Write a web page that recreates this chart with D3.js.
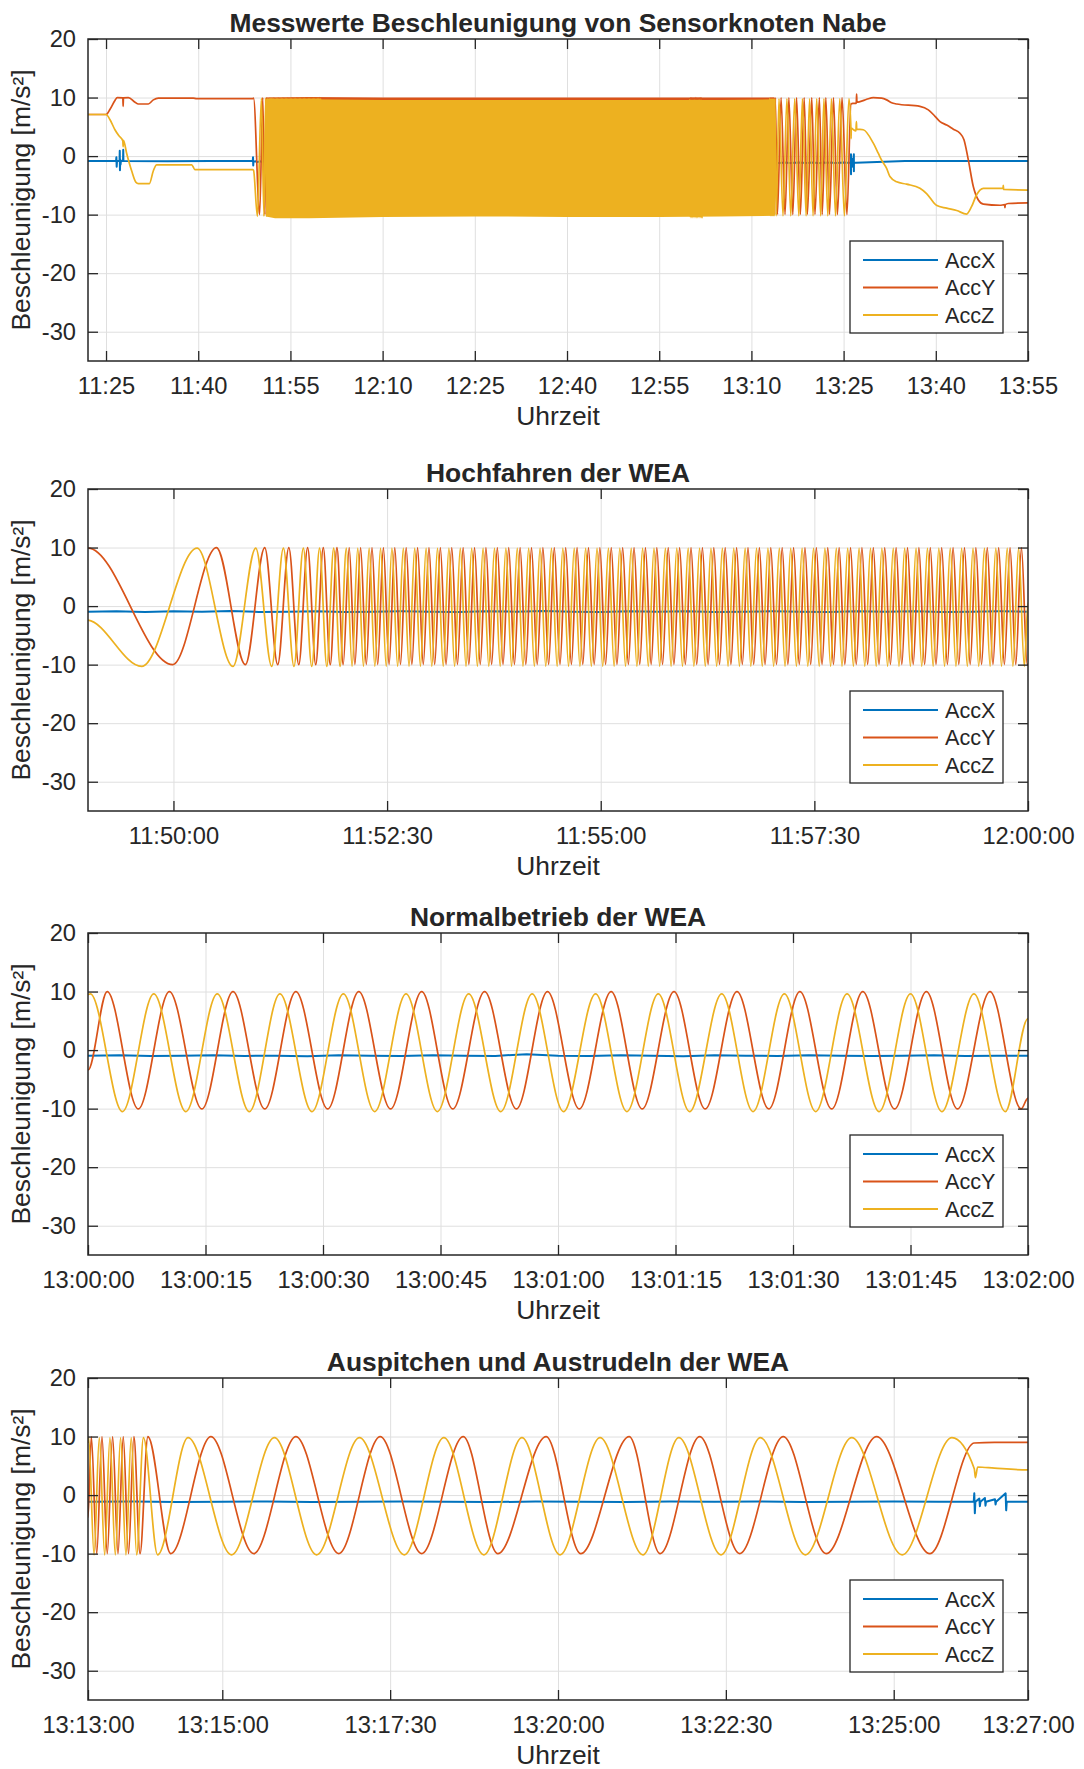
<!DOCTYPE html>
<html lang="de">
<head>
<meta charset="utf-8">
<title>Beschleunigung Sensorknoten Nabe</title>
<script src="https://cdn.jsdelivr.net/npm/d3@7/dist/d3.min.js"></script>
<style>
  html, body { margin: 0; padding: 0; background: #ffffff; }
  svg { display: block; }
  text { font-family: "Liberation Sans", Arial, Helvetica, sans-serif; fill: #262626; }
</style>
</head>
<body>
<svg id="chart" width="1084" height="1769"></svg>
<script>
// ------------------------------------------------------------------
// Data
// ------------------------------------------------------------------
const seriesNames = ["AccX", "AccY", "AccZ"];
const seriesColors = ["#0072BD", "#D95319", "#EDB120"];
const yTickValues = [-30, -20, -10, 0, 10, 20];

const panelTitles = [
  "Messwerte Beschleunigung von Sensorknoten Nabe",
  "Hochfahren der WEA",
  "Normalbetrieb der WEA",
  "Auspitchen und Austrudeln der WEA"
];
const panelRanges = [
  ["11:22:04", "13:55:00"],
  ["11:49:00", "12:00:00"],
  ["13:00:00", "13:02:00"],
  ["13:13:00", "13:27:00"]
];
const panelTickLabels = [
  ["11:25", "11:40", "11:55", "12:10", "12:25", "12:40", "12:55", "13:10", "13:25", "13:40", "13:55"],
  ["11:50:00", "11:52:30", "11:55:00", "11:57:30", "12:00:00"],
  ["13:00:00", "13:00:15", "13:00:30", "13:00:45", "13:01:00", "13:01:15", "13:01:30", "13:01:45", "13:02:00"],
  ["13:13:00", "13:15:00", "13:17:30", "13:20:00", "13:22:30", "13:25:00", "13:27:00"]
];

// Rotor at rest before start-up [clock, m/s²]
const accXBefore = [
  ["11:22:04", -0.85], ["11:26:38", -0.85], ["11:26:41", -0.2], ["11:26:44", -1.8], ["11:26:47", -0.85],
  ["11:27:12", -0.85], ["11:27:14", 0.9], ["11:27:16", -2.4], ["11:27:19", -0.6], ["11:27:22", -1.4],
  ["11:27:25", -0.85], ["11:27:46", -0.85], ["11:27:48", 1.1], ["11:27:50", -0.85], ["11:35:00", -0.9],
  ["11:42:00", -0.85], ["11:48:52", -0.85], ["11:48:55", -0.2], ["11:48:57", -1.6], ["11:48:59", -0.9]
];
const accYBefore = [
  ["11:22:04", 7.1], ["11:25:00", 7.1], ["11:25:39", 8.0], ["11:26:27", 9.5], ["11:26:50", 10.0],
  ["11:27:44", 9.95], ["11:27:47", 8.5], ["11:27:50", 9.95], ["11:28:38", 10.0], ["11:29:43", 9.2],
  ["11:30:15", 8.9], ["11:31:53", 8.9], ["11:32:42", 9.6], ["11:33:30", 9.9], ["11:39:12", 9.9],
  ["11:39:44", 9.8], ["11:48:52", 9.8]
];
const accZBefore = [
  ["11:22:04", 7.1], ["11:25:00", 7.1], ["11:25:39", 6.2], ["11:26:27", 4.5], ["11:27:04", 3.5],
  ["11:27:44", 2.6], ["11:27:47", 1.6], ["11:27:50", 2.7], ["11:28:21", 0.5], ["11:29:10", -2.5],
  ["11:29:53", -4.5], ["11:30:15", -4.7], ["11:32:03", -4.7], ["11:32:42", -2.5], ["11:33:14", -1.5],
  ["11:38:56", -1.5], ["11:39:28", -2.3], ["11:48:52", -2.3]
];

// Start-up, seconds after 11:49:00
const startupBase = "11:49:00";
const accXStartup = [ // every 20 s
  -0.95, -0.9, -1.0, -0.9, -0.95, -0.85, -1.0, -0.95, -0.9, -1.0, -0.95, -0.9, -0.95, -1.0, -0.9, -0.95, -0.85,
  -0.95, -1.0, -0.9, -0.95, -0.9, -1.0, -0.95, -0.9, -0.95, -1.0, -0.9, -0.95, -0.9, -1.0, -0.95, -0.9, -0.95
];
const accYStartupEdges = [[0, 9.9], [660, -9.9]];
const accZStartupEdges = [[0, -2.4], [660, 0.5]];
const accYStartupLevels = [10, -10];
const accZStartupLevels = [9.9, -10.3];
// turning points (trough first)
const accYStartupTurns = [
  59.5, 90.2, 110.5, 124.1, 133.2, 141.0, 148.0, 154.2, 159.9, 165.2, 170.1, 174.8, 179.2, 183.4, 187.4, 191.4,
  195.4, 199.4, 203.4, 207.4, 211.4, 215.4, 219.4, 223.4, 227.4, 231.4, 235.4, 239.4, 243.4, 247.4, 251.4,
  255.4, 259.4, 263.4, 267.4, 271.4, 275.4, 279.4, 283.4, 287.4, 291.4, 295.4, 299.4, 303.4, 307.4, 311.4,
  315.4, 319.4, 323.4, 327.4, 331.4, 335.4, 339.4, 343.4, 347.4, 351.4, 355.4, 359.4, 363.4, 367.4, 371.4,
  375.4, 379.4, 383.4, 387.4, 391.4, 395.4, 399.4, 403.4, 407.4, 411.4, 415.4, 419.4, 423.4, 427.4, 431.4,
  435.4, 439.4, 443.4, 447.4, 451.4, 455.4, 459.4, 463.4, 467.4, 471.4, 475.4, 479.4, 483.4, 487.4, 491.4,
  495.4, 499.4, 503.4, 507.4, 511.4, 515.4, 519.4, 523.4, 527.4, 531.4, 535.4, 539.4, 543.4, 547.4, 551.4,
  555.4, 559.4, 563.4, 567.4, 571.4, 575.4, 579.4, 583.4, 587.4, 591.4, 595.4, 599.4, 603.4, 607.4, 611.4,
  615.4, 619.4, 623.4, 627.4, 631.4, 635.4, 639.4, 643.4, 647.4, 651.4, 655.4, 659.4
];
const accZStartupTurns = [
  37.7, 76.6, 101.8, 117.8, 129.0, 137.2, 144.6, 151.2, 157.1, 162.6, 167.7, 172.5, 177.0, 181.4, 185.4, 189.4,
  193.4, 197.4, 201.4, 205.4, 209.4, 213.4, 217.4, 221.4, 225.4, 229.4, 233.4, 237.4, 241.4, 245.4, 249.4,
  253.4, 257.4, 261.4, 265.4, 269.4, 273.4, 277.4, 281.4, 285.4, 289.4, 293.4, 297.4, 301.4, 305.4, 309.4,
  313.4, 317.4, 321.4, 325.4, 329.4, 333.4, 337.4, 341.4, 345.4, 349.4, 353.4, 357.4, 361.4, 365.4, 369.4,
  373.4, 377.4, 381.4, 385.4, 389.4, 393.4, 397.4, 401.4, 405.4, 409.4, 413.4, 417.4, 421.4, 425.4, 429.4,
  433.4, 437.4, 441.4, 445.4, 449.4, 453.4, 457.4, 461.4, 465.4, 469.4, 473.4, 477.4, 481.4, 485.4, 489.4,
  493.4, 497.4, 501.4, 505.4, 509.4, 513.4, 517.4, 521.4, 525.4, 529.4, 533.4, 537.4, 541.4, 545.4, 549.4,
  553.4, 557.4, 561.4, 565.4, 569.4, 573.4, 577.4, 581.4, 585.4, 589.4, 593.4, 597.4, 601.4, 605.4, 609.4,
  613.4, 617.4, 621.4, 625.4, 629.4, 633.4, 637.4, 641.4, 645.4, 649.4, 653.4, 657.4
];

// Normal operation, seconds after 13:00:00
const normalBase = "13:00:00";
const accXNormal = [ // every 4 s
  -0.95, -0.9, -1.0, -0.95, -0.9, -1.0, -0.95, -1.05, -0.9, -0.95, -1.0, -0.9, -0.95, -1.0, -0.7, -0.95,
  -1.0, -0.9, -0.95, -1.05, -0.9, -0.95, -1.0, -0.9, -0.95, -1.0, -0.95, -0.9, -1.0, -0.95, -0.95
];
const accYNormalEdges = [[0, -3.4], [120, -8.2]];
const accZNormalEdges = [[0, 9.5], [120, 5.4]];
const accYNormalLevels = [10, -10.05];
const accZNormalLevels = [9.6, -10.5];
// turning points (peak first)
const accYNormalTurns = [
  2.45, 6.42, 10.39, 14.54, 18.51, 22.57, 26.54, 30.60, 34.57, 38.63, 42.60, 46.57, 50.63, 54.69, 58.66,
  62.72, 66.78, 70.75, 74.81, 78.79, 82.85, 86.91, 90.88, 94.94, 98.91, 102.97, 107.03, 111.0, 115.15, 119.12
];
const accZNormalTurns = [
  0.3, 4.4, 8.4, 12.5, 16.5, 20.6, 24.5, 28.6, 32.6, 36.6, 40.6, 44.6, 48.6, 52.7, 56.7,
  60.7, 64.8, 68.8, 72.8, 76.8, 80.9, 84.9, 88.9, 92.9, 96.9, 101.0, 105.0, 109.0, 113.1, 117.1
];

// Pitching out and coasting, seconds after 13:13:00
const stopBase = "13:13:00";
const accXStop = [
  [0, -1.15], [40, -1.1], [80, -1.2], [120, -1.15], [160, -1.1], [200, -1.2], [240, -1.15], [280, -1.1],
  [320, -1.15], [360, -1.2], [400, -1.1], [440, -1.15], [480, -1.2], [520, -1.1], [560, -1.15], [600, -1.1],
  [640, -1.2], [680, -1.15], [720, -1.1], [760, -1.15], [791.5, -1.15], [792, 0.3], [792.5, -3.1], [793, -1.15],
  [796.5, -0.6], [797, -1.9], [797.5, -1.15], [801.5, -0.5], [802, -1.8], [802.5, -1.15], [810.5, -0.7],
  [811, -1.6], [811.5, -1.15], [820, 0.3], [820.5, -2.6], [821, -1.15], [840, -1.15]
];
const accYStopEdges = [[0, -3.8], [792, 8.9]];
const accZStopEdges = [[0, 9.0], [792, 4.5]];
const accYStopLevels = [10, -10];
const accZStopLevels = [9.8, -10.2];
// turning points (peak first)
const accYStopTurns = [
  3.0, 7.8, 12.5, 17.2, 22.0, 26.8, 31.5, 36.2, 41.0, 46.5, 53.5, 74.0, 109.8, 148.1, 185.8, 224.1, 261.1,
  298.2, 335.3, 366.2, 409.4, 440.3, 483.6, 511.3, 546.6, 582.4, 621.3, 659.6, 704.7, 752.3
];
const accZStopTurns = [
  0.6, 5.4, 10.1, 14.9, 19.6, 24.4, 29.1, 33.9, 38.6, 43.5, 49.5, 62.2, 89.4, 128.3, 166.6, 204.3, 242.6,
  282.7, 318.0, 353.8, 387.8, 421.8, 457.6, 495.9, 528.0, 565.7, 600.9, 641.1, 682.5, 727.6, 772.0
];

// Rotor at rest after stop [clock, m/s²]
const accXAfter = [["13:27:00", -0.95], ["13:35:00", -0.85], ["13:45:00", -0.85], ["13:55:00", -0.85]];
const accYAfter = [
  ["13:26:30", 9.0], ["13:27:00", 9.0], ["13:27:04", 9.2], ["13:27:07", 10.6], ["13:27:10", 9.2],
  ["13:27:40", 9.3], ["13:28:45", 9.7], ["13:29:50", 10.0], ["13:31:11", 9.9], ["13:32:00", 9.6],
  ["13:32:49", 9.1], ["13:33:38", 8.9], ["13:37:25", 8.5], ["13:38:47", 7.9], ["13:39:52", 6.8],
  ["13:40:41", 5.9], ["13:41:46", 5.3], ["13:42:51", 4.6], ["13:43:56", 3.9], ["13:44:35", 2.8],
  ["13:45:17", -0.6], ["13:46:06", -5.2], ["13:46:55", -7.5], ["13:47:44", -8.2], ["13:50:26", -8.4],
  ["13:51:12", -8.3], ["13:51:15", -8.8], ["13:51:18", -8.3], ["13:51:47", -8.1], ["13:55:00", -8.0]
];
const accZAfter = [
  ["13:26:13", 3.0], ["13:26:15", 4.8], ["13:26:30", 4.6], ["13:27:00", 4.3], ["13:27:05", 5.9],
  ["13:27:08", 4.6], ["13:28:12", 4.5], ["13:29:50", 2.2], ["13:30:38", 0.5], ["13:31:11", -0.7],
  ["13:32:00", -2.1], ["13:32:32", -3.5], ["13:33:38", -4.4], ["13:35:15", -4.8], ["13:37:25", -5.5],
  ["13:38:30", -6.4], ["13:40:06", -8.4], ["13:41:46", -8.9], ["13:43:24", -9.3], ["13:45:01", -9.9],
  ["13:45:50", -8.6], ["13:46:38", -6.6], ["13:47:44", -5.5], ["13:49:21", -5.5], ["13:50:56", -5.5],
  ["13:50:59", -5.0], ["13:51:02", -5.7], ["13:55:00", -5.8]
];

// Envelope of the fast rotation in the overview (too dense to resolve single turns)
const blockTimes = ["11:51:00", "11:52:30", "11:58:00", "12:10:00", "12:25:00", "12:40:00", "12:55:00", "13:05:00", "13:13:45"];
const blockYMax = [10.0, 10.0, 10.1, 10.0, 10.0, 10.0, 10.0, 10.0, 10.0];
const blockYMin = [-10.0, -10.0, -10.0, -10.0, -10.0, -10.0, -10.0, -10.0, -10.0];
const blockZMax = [9.7, 9.7, 9.7, 9.6, 9.6, 9.6, 9.6, 9.6, 9.7];
const blockZMin = [-10.3, -10.6, -10.6, -10.4, -10.3, -10.4, -10.4, -10.3, -10.2];

// ------------------------------------------------------------------
// Assemble series (time in seconds of day)
// ------------------------------------------------------------------
const toSec = c => { const p = c.split(":").map(Number); return p[0] * 3600 + p[1] * 60 + (p[2] || 0); };
const fromClock = list => list.map(([c, v]) => [toSec(c), v]);
const fromOffsets = (base, list) => list.map(([dt, v]) => [toSec(base) + dt, v]);
const fromSamples = (base, step, vals) => vals.map((v, i) => [toSec(base) + i * step, v]);
const fromTurns = (base, times, firstHigh, levels) =>
  times.map((dt, i) => [toSec(base) + dt, ((i % 2 === 0) === firstHigh) ? levels[0] : levels[1]]);
const merge = (...parts) => {
  const all = parts.flat().sort((a, b) => a[0] - b[0]);
  return all.filter((d, i) => i === 0 || d[0] > all[i - 1][0]);
};

const accX = merge(
  fromClock(accXBefore), fromSamples(startupBase, 20, accXStartup),
  fromSamples(normalBase, 4, accXNormal), fromOffsets(stopBase, accXStop), fromClock(accXAfter)
);
const accY = merge(
  fromClock(accYBefore),
  fromOffsets(startupBase, accYStartupEdges), fromTurns(startupBase, accYStartupTurns, false, accYStartupLevels),
  fromOffsets(normalBase, accYNormalEdges), fromTurns(normalBase, accYNormalTurns, true, accYNormalLevels),
  fromOffsets(stopBase, accYStopEdges), fromTurns(stopBase, accYStopTurns, true, accYStopLevels),
  fromClock(accYAfter)
);
const accZ = merge(
  fromClock(accZBefore),
  fromOffsets(startupBase, accZStartupEdges), fromTurns(startupBase, accZStartupTurns, false, accZStartupLevels),
  fromOffsets(normalBase, accZNormalEdges), fromTurns(normalBase, accZNormalTurns, true, accZNormalLevels),
  fromOffsets(stopBase, accZStopEdges), fromTurns(stopBase, accZStopTurns, true, accZStopLevels),
  fromClock(accZAfter)
);
const seriesData = [accX, accY, accZ];
const blockY = blockTimes.map((t, i) => ({ t: toSec(t), lo: blockYMin[i], hi: blockYMax[i] }));
const blockZ = blockTimes.map((t, i) => ({ t: toSec(t), lo: blockZMin[i], hi: blockZMax[i] }));

// ------------------------------------------------------------------
// Layout
// ------------------------------------------------------------------
const plotLeft = 88, plotRight = 1028, plotH = 322;
const panelTops = [39, 489, 933, 1378];
const axisColor = "#262626", gridColor = "#dfdfdf";
const tickFont = 23.7, labelFont = 26.4, legendFont = 21.6;
const lineWidths = [2.0, 1.7, 1.7];

const svg = d3.select("#chart");
const defs = svg.append("defs");

panelTops.forEach((top, pi) => {
  const bottom = top + plotH;
  const x = d3.scaleLinear().domain(panelRanges[pi].map(toSec)).range([plotLeft, plotRight]);
  const y = d3.scaleLinear().domain([-35, 20]).range([bottom, top]);
  const tickSecs = panelTickLabels[pi].map(toSec);
  const [d0, d1] = x.domain();
  const g = svg.append("g");

  const clipId = "clip" + pi;
  defs.append("clipPath").attr("id", clipId)
    .append("rect").attr("x", plotLeft).attr("y", top).attr("width", plotRight - plotLeft).attr("height", plotH);

  // grid
  g.append("g").attr("transform", `translate(0,${bottom})`)
    .call(d3.axisBottom(x).tickValues(tickSecs.filter(t => t > d0 && t < d1)).tickSize(-plotH).tickFormat(""))
    .call(a => a.select(".domain").remove())
    .selectAll("line").attr("stroke", gridColor).attr("stroke-width", 1);
  g.append("g").attr("transform", `translate(${plotLeft},0)`)
    .call(d3.axisLeft(y).tickValues(yTickValues.filter(v => v > -35 && v < 20)).tickSize(-(plotRight - plotLeft)).tickFormat(""))
    .call(a => a.select(".domain").remove())
    .selectAll("line").attr("stroke", gridColor).attr("stroke-width", 1);

  // data
  const plot = g.append("g").attr("clip-path", `url(#${clipId})`);
  const smooth = d3.line().x(d => x(d[0])).y(d => y(d[1])).curve(d3.curveMonotoneX);
  const straight = d3.line().x(d => x(d[0])).y(d => y(d[1]));
  const visible = data => {
    const i0 = Math.max(0, d3.bisector(d => d[0]).left(data, d0) - 2);
    const i1 = Math.min(data.length, d3.bisector(d => d[0]).right(data, d1) + 2);
    return data.slice(i0, i1);
  };
  const band = d3.area().x(d => x(d.t)).y0(d => y(d.lo)).y1(d => y(d.hi));

  seriesData.forEach((data, si) => {
    plot.append("path").datum(visible(data)).attr("d", si === 0 ? straight : smooth)
      .attr("fill", "none").attr("stroke", seriesColors[si]).attr("stroke-width", lineWidths[si])
      .attr("stroke-linejoin", "round");
    if (pi === 0 && si === 1) plot.append("path").datum(blockY).attr("d", band).attr("fill", seriesColors[1]);
    if (pi === 0 && si === 2) plot.append("path").datum(blockZ).attr("d", band).attr("fill", seriesColors[2]);
  });

  // axes with inward ticks
  const styleAxis = a => {
    a.select(".domain").remove();
    a.selectAll(".tick line").attr("stroke", axisColor).attr("stroke-width", 1.3);
    a.selectAll(".tick text").attr("fill", axisColor).style("font-size", tickFont + "px")
      .attr("font-family", null);
  };
  g.append("g").attr("transform", `translate(0,${bottom})`)
    .call(d3.axisBottom(x).tickValues(tickSecs).tickFormat((d, i) => panelTickLabels[pi][i])
      .tickSizeInner(-10).tickSizeOuter(0).tickPadding(16))
    .call(styleAxis);
  g.append("g").attr("transform", `translate(0,${top})`)
    .call(d3.axisTop(x).tickValues(tickSecs).tickFormat("").tickSizeInner(-10).tickSizeOuter(0))
    .call(styleAxis);
  g.append("g").attr("transform", `translate(${plotLeft},0)`)
    .call(d3.axisLeft(y).tickValues(yTickValues).tickFormat(d => String(d))
      .tickSizeInner(-10).tickSizeOuter(0).tickPadding(12))
    .call(styleAxis);
  g.append("g").attr("transform", `translate(${plotRight},0)`)
    .call(d3.axisRight(y).tickValues(yTickValues).tickFormat("").tickSizeInner(-10).tickSizeOuter(0))
    .call(styleAxis);

  g.append("rect").attr("x", plotLeft).attr("y", top).attr("width", plotRight - plotLeft).attr("height", plotH)
    .attr("fill", "none").attr("stroke", axisColor).attr("stroke-width", 1.5);

  // titles and labels
  g.append("text").attr("x", (plotLeft + plotRight) / 2).attr("y", top - 7)
    .attr("text-anchor", "middle").style("font-size", labelFont + "px").style("font-weight", "bold")
    .text(panelTitles[pi]);
  g.append("text").attr("x", (plotLeft + plotRight) / 2).attr("y", bottom + 64)
    .attr("text-anchor", "middle").style("font-size", labelFont + "px").text("Uhrzeit");
  g.append("text").attr("transform", `translate(30,${top + plotH / 2}) rotate(-90)`)
    .attr("text-anchor", "middle").style("font-size", labelFont + "px").text("Beschleunigung [m/s²]");

  // legend
  const lg = g.append("g").attr("transform", `translate(850,${top + 202})`);
  lg.append("rect").attr("width", 153).attr("height", 92).attr("fill", "#ffffff")
    .attr("stroke", axisColor).attr("stroke-width", 1.3);
  seriesNames.forEach((name, si) => {
    const ly = 19 + si * 27.5;
    lg.append("line").attr("x1", 13).attr("x2", 88).attr("y1", ly).attr("y2", ly)
      .attr("stroke", seriesColors[si]).attr("stroke-width", 2.2);
    lg.append("text").attr("x", 95).attr("y", ly).attr("dy", "0.35em")
      .style("font-size", legendFont + "px").text(name);
  });
});
</script>
</body>
</html>
